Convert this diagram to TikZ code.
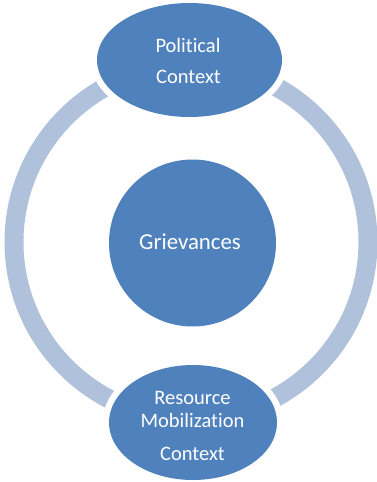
\documentclass[tikz,border=0pt]{standalone}
\usepackage{fontspec}
\setmainfont{Carlito}[Ligatures={NoCommon}]
\usetikzlibrary{shapes.geometric}
\definecolor{acc}{HTML}{4F81BD}
\definecolor{ringc}{HTML}{B0C1DC}
\begin{document}
\begin{tikzpicture}[x=1pt,y=-1pt,
  lbl/.style={text=white,font=\fontsize{20.5}{24}\selectfont,anchor=base,inner sep=0pt},
  blob/.style={ellipse,fill=acc,inner sep=0pt,outer sep=0pt},
  halo/.style={ellipse,fill=white,inner sep=0pt,outer sep=0pt}]
\useasboundingbox (0,0) rectangle (377,482);
% ring
\draw[ringc, line width=19pt] (191,242) circle[radius=177];
% white halos around the outer ellipses
\node[halo, minimum width=198pt, minimum height=127pt] (polhalo) at (189.5,60) {};
\node[halo, minimum width=181pt, minimum height=128pt] (reshalo) at (193,422.5) {};
% shapes
\node[blob, minimum width=185pt, minimum height=114pt] (pol) at (189.5,60) {};
\node[blob, minimum width=168pt, minimum height=115pt] (res) at (193,422.5) {};
\node[blob, circle, minimum size=167pt] (gri) at (192.5,243) {};
% texts
\node[lbl] (t1) at (188,52) {Political};
\node[lbl] (t2) at (188.5,83) {Context};
\node[lbl, font=\fontsize{22.8}{26}\selectfont] (t3) at (190,249) {Grievances};
\node[lbl] (t4) at (192.5,404) {Resource};
\node[lbl] (t5) at (192.5,427) {Mobilization};
\node[lbl] (t6) at (192.5,460) {Context};
\end{tikzpicture}
\end{document}
